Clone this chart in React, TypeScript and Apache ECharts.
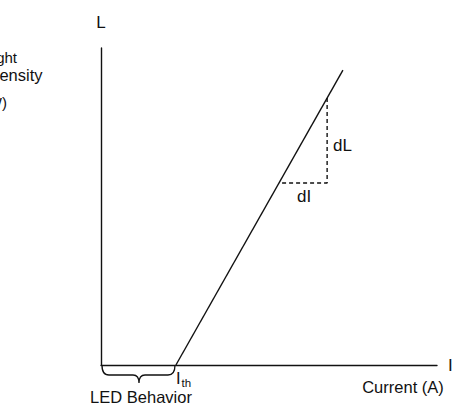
import React, { useEffect, useRef } from "react";
import * as echarts from "echarts";

// Current (x) and light intensity (y) in arbitrary units, 0..100
const curveCurrent = [22.3, 72];
const curveLight = [0, 93];
// slope triangle (dI / dL)
const slopeCurrent = [67.3, 67.3, 53.0];
const slopeLight = [84.2, 57.4, 57.4];
const axisNames = { x: "I", y: "L" };
const labels = {
  xTitle: "Current (A)",
  yTitle: ["Light", "Intensity", "(W)"],
  led: "LED Behavior",
  dL: "dL",
  dI: "dI",
};

const FONT = "'Liberation Sans', Arial, Helvetica, sans-serif";
const INK = "#111";

echarts.graphic.registerShape(
  "brace",
  echarts.graphic.extendPath(
    "M0,0 C0,7 2,10 7,10 L31,10 C35,10 37,12 37,18 C37,12 39,10 43,10 L66,10 C71,10 73,7 73,0",
    {}
  )
);

export default function App() {
  const ref = useRef<HTMLDivElement>(null);
  useEffect(() => {
    if (!ref.current) return;
    const chart = echarts.init(ref.current, null, { renderer: "svg" });
    const axisCommon = {
      type: "value" as const,
      min: 0,
      max: 100,
      axisLine: { show: true, lineStyle: { color: INK, width: 1.4 } },
      axisTick: { show: false },
      axisLabel: { show: false },
      splitLine: { show: false },
      nameTextStyle: { fontFamily: FONT, fontSize: 17, color: INK },
    };
    const text = (t: string, x: number, y: number, align = "left", size = 16) => ({
      type: "text",
      x,
      y,
      style: {
        text: t,
        fill: INK,
        font: `${size}px ${FONT}`,
        textAlign: align,
        textVerticalAlign: "middle",
      },
    });
    chart.setOption({
      animation: false,
      backgroundColor: "#fff",
      grid: { left: 101, right: 24, top: 48, bottom: 45 },
      xAxis: { ...axisCommon, name: axisNames.x, nameLocation: "end", nameGap: 11 },
      yAxis: { ...axisCommon, name: axisNames.y, nameLocation: "end", nameGap: 17 },
      series: [
        {
          type: "line",
          data: curveCurrent.map((c, i) => [c, curveLight[i]]),
          symbol: "none",
          lineStyle: { color: INK, width: 1.4 },
          z: 3,
        },
        {
          type: "line",
          data: slopeCurrent.map((c, i) => [c, slopeLight[i]]),
          symbol: "none",
          lineStyle: { color: INK, width: 1.4, type: [4, 3] },
        },
      ],
      graphic: [
        text(labels.yTitle[0], 17, 57, "right", 15),
        text(labels.yTitle[1], 42.5, 75, "right", 16.5),
        text(labels.yTitle[2], 7, 102, "right", 15),
        text(labels.xTitle, 403, 387, "center", 16.5),
        text(labels.led, 141, 397, "center", 16.5),
        text(labels.dL, 333, 145, "left", 17),
        text(labels.dI, 297, 196, "left", 17),
        {
          type: "text",
          x: 176,
          y: 369,
          style: {
            text: "{i|I}{s|th}",
            fill: INK,
            font: `16px ${FONT}`,
            textVerticalAlign: "top",
            rich: {
              i: { fontSize: 16.5, fontFamily: FONT, lineHeight: 15, verticalAlign: "top", fill: INK, padding: [0, 1, 0, 0] },
              s: { fontSize: 11.5, fontFamily: FONT, lineHeight: 20, verticalAlign: "bottom", fill: INK },
            },
          },
        },
        {
          type: "brace",
          x: 102,
          y: 365,
          shape: {},
          style: { stroke: INK, fill: null, lineWidth: 1.3 },
        },
      ],
    });
    return () => chart.dispose();
  }, []);
  return (
    <div
      ref={ref}
      style={{ position: "absolute", left: 0, top: 0, width: 461, height: 410 }}
    />
  );
}
